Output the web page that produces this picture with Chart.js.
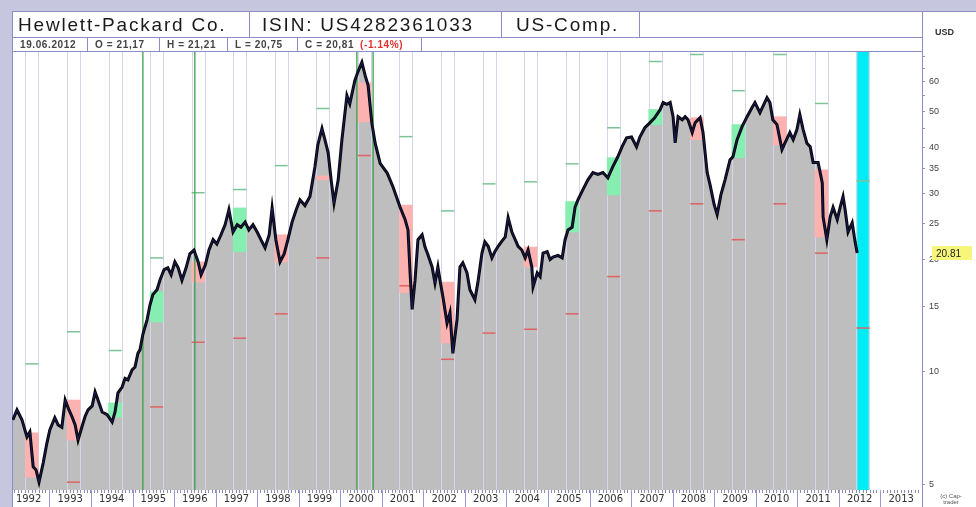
<!DOCTYPE html>
<html>
<head>
<meta charset="utf-8">
<script src="https://cdn.jsdelivr.net/npm/chart.js@4.4.1/dist/chart.umd.min.js"></script>
<style>
body{margin:0;background:#c6c6de;}
#wrap{position:relative;width:976px;height:507px;overflow:hidden;}
#panel{position:absolute;left:12px;top:11px;width:964px;height:496px;background:#fff;border-top:1px solid #8c8cc8;border-left:1px solid #8c8cc8;box-sizing:border-box;}
#sep{position:absolute;left:922px;top:12px;width:1px;height:495px;background:#8c8cc8;}
canvas{position:absolute;left:0;top:0;}
.box{position:absolute;box-sizing:border-box;border-right:1px solid #8c8cc8;border-bottom:1px solid #8c8cc8;white-space:nowrap;font-family:"Liberation Sans",Arial,sans-serif;overflow:hidden;}
.r1{top:12px;height:26px;font-size:19px;letter-spacing:1.8px;line-height:25px;color:#1a1a1a;}
.r2{top:38px;height:14px;font-size:10px;font-weight:bold;letter-spacing:0.6px;line-height:13px;color:#444;}
.neg{color:#e03030;margin-left:6px;}
#usd{position:absolute;left:935px;top:27px;font:bold 9px "Liberation Sans",Arial,sans-serif;color:#333;}
#copy{position:absolute;left:930px;top:493px;width:42px;text-align:center;font:6px/6px "Liberation Sans",Arial,sans-serif;color:#555;}
</style>
</head>
<body>
<div id="wrap">
  <div id="panel"></div>
  <canvas id="hpChart" width="976" height="507"></canvas>
  <div id="sep"></div>
  <div class="box r1" style="left:12px;width:238px;padding-left:6px">Hewlett-Packard Co.</div>
  <div class="box r1" style="left:250px;width:252px;padding-left:12px">ISIN: US4282361033</div>
  <div class="box r1" style="left:502px;width:138px;padding-left:14px">US-Comp.</div>
  <div class="box r1" style="left:640px;width:283px"></div>
  <div class="box r2" style="left:12px;width:76px;padding-left:8px">19.06.2012</div>
  <div class="box r2" style="left:88px;width:72px;padding-left:7px">O = 21,17</div>
  <div class="box r2" style="left:160px;width:68px;padding-left:7px">H = 21,21</div>
  <div class="box r2" style="left:228px;width:70px;padding-left:7px">L = 20,75</div>
  <div class="box r2" style="left:298px;width:124px;padding-left:7px">C = 20,81<span class="neg">(-1.14%)</span></div>
  <div class="box r2" style="left:422px;width:501px"></div>
  <div id="usd">USD</div>
  <div id="copy">(c) Cap-<br>trader</div>
</div>
<script>
// price path (decimal year, USD)
let dates = [
1992.12,1992.22,1992.34,1992.46,1992.53,1992.61,1992.68,1992.75,1992.85,1992.94,
1993.01,1993.13,1993.21,1993.30,1993.38,1993.47,1993.54,1993.62,1993.69,1993.78,1993.86,1993.93,
1994.03,1994.10,1994.17,1994.27,1994.39,1994.51,1994.58,1994.65,1994.75,1994.82,1994.89,1994.99,
1995.06,1995.13,1995.18,1995.25,1995.35,1995.42,1995.49,1995.59,1995.66,1995.76,1995.85,1995.93,
1996.02,1996.10,1996.19,1996.29,1996.38,1996.48,1996.58,1996.65,1996.75,1996.84,1996.94,
1997.03,1997.13,1997.23,1997.32,1997.42,1997.52,1997.61,1997.71,1997.80,1997.90,
1998.00,1998.09,1998.19,1998.29,1998.36,1998.45,1998.55,1998.65,1998.74,1998.84,1998.94,
1999.03,1999.15,1999.27,1999.39,1999.46,1999.56,1999.63,1999.71,1999.78,1999.85,1999.95,
2000.04,2000.16,2000.23,2000.35,2000.43,2000.52,2000.60,2000.67,2000.76,2000.84,2000.96,
2001.13,2001.27,2001.44,2001.56,2001.63,2001.68,2001.73,2001.80,2001.87,2001.97,
2002.04,2002.11,2002.21,2002.28,2002.35,2002.40,2002.47,2002.57,2002.64,2002.71,2002.81,2002.88,2002.95,
2003.05,2003.12,2003.24,2003.32,2003.41,2003.48,2003.56,2003.65,2003.72,2003.80,2003.89,2003.97,
2004.04,2004.13,2004.21,2004.28,2004.37,2004.45,2004.52,2004.61,2004.64,2004.74,2004.81,2004.88,2004.98,
2005.05,2005.12,2005.24,2005.34,2005.41,2005.48,2005.58,2005.65,2005.72,2005.84,2005.96,
2006.08,2006.20,2006.32,2006.44,2006.56,2006.68,2006.78,2006.89,
2007.01,2007.13,2007.21,2007.33,2007.45,2007.57,2007.70,2007.77,2007.86,2007.94,
2008.01,2008.06,2008.13,2008.23,2008.30,2008.37,2008.47,2008.54,2008.66,2008.73,2008.83,2008.90,
2009.00,2009.07,2009.16,2009.26,2009.38,2009.45,2009.55,2009.67,2009.79,2009.91,2009.98,
2010.10,2010.27,2010.34,2010.41,2010.51,2010.63,2010.70,2010.82,2010.90,2010.99,
2011.06,2011.14,2011.23,2011.31,2011.38,2011.50,2011.60,2011.62,2011.71,2011.79,2011.86,2011.96,
2012.03,2012.10,2012.15,2012.22,2012.32,2012.39,2012.44
];
let prices = [
7.43,7.90,7.43,6.69,6.9,5.56,5.45,5.06,5.69,6.44,
6.98,7.53,7.2,7.1,8.40,7.90,7.6,7.2,6.56,7.1,7.6,7.9,
8.1,8.83,8.40,7.8,7.67,7.33,7.8,8.78,9.1,9.6,9.51,10.12,
10.3,11.2,11.45,12.6,13.78,15.1,16.1,16.6,17.6,18.8,19.0,18.2,
19.7,19.0,17.6,19.0,20.7,21.2,19.7,18.2,19.3,21.2,22.6,
22.0,23.3,24.8,27.2,23.7,24.8,24.4,25.2,24.0,24.8,
23.7,22.6,21.5,23.3,27.5,22.6,19.7,20.7,22.6,25.2,27.2,
28.9,27.9,29.5,35.4,40.6,44.9,41.9,38.6,32.7,28.3,32.7,
41.9,55.0,52.3,60.3,63.9,67.6,62.2,58.6,46.4,41.0,36.2,
34.1,31.3,27.6,25.6,24.0,18.4,14.7,17.6,22.6,23.3,
21.6,20.6,19.1,17.3,19.1,17.6,15.9,13.5,14.4,11.2,13.8,19.1,19.6,
18.4,16.6,15.6,17.6,20.8,22.3,21.7,20.2,21.0,21.7,22.4,23.0,
25.9,23.7,22.6,21.7,21.2,20.2,21.2,19.1,16.9,18.4,18.0,20.8,21.0,
20.0,20.3,20.5,20.2,22.6,24.0,24.4,27.6,28.9,30.8,32.7,
34.2,33.8,34.2,33.1,35.5,37.7,40.1,42.4,
42.6,40.1,42.6,45.1,46.5,48.0,50.5,52.7,52.1,52.7,
48.3,41.1,48.3,47.4,48.3,47.4,43.8,46.5,48.0,43.8,34.2,31.7,
28.0,26.4,29.8,32.7,37.0,37.7,41.9,45.4,48.3,51.1,52.7,
49.5,54.3,52.7,47.4,46.0,39.4,41.0,43.8,41.9,44.6,
48.9,44.6,41.0,40.1,36.4,36.4,32.1,26.0,22.6,26.0,27.6,25.6,
27.6,29.5,27.2,23.7,25.1,22.3,20.81
];

// yearly boxes and level marks, 1992..2012
let years = [1992,1993,1994,1995,1996,1997,1998,1999,2000,2001,2002,2003,2004,2005,2006,2007,2008,2009,2010,2011,2012];
let boxTop    = [6.86,8.40,8.25,16.4,19.7,27.5,23.3,33.5,59.6,28.0,17.4,null,21.6,28.6,37.5,50.5,48.0,46.0,48.3,34.8,null];
let boxBottom = [5.22,6.56,7.56,13.6,17.4,21.0,19.7,32.7,46.8,16.3,11.95,null,19.1,23.7,29.8,46.0,41.9,37.5,40.6,23.0,null];
let boxUp     = [false,false,true,true,false,true,false,false,false,false,false,null,false,true,true,true,false,true,false,false,null];
let levelHigh = [10.5,12.8,11.4,20.2,30.2,30.8,35.7,50.8,null,42.7,27.0,31.9,32.3,36.1,45.1,67.9,70.9,56.7,70.9,52.4,32.5];
let levelLow  = [null,5.06,null,8.05,12.0,12.3,14.3,20.2,38.0,17.0,10.8,12.7,13.0,14.3,18.0,27.0,28.2,22.6,28.2,20.8,13.1];
let currentYear = 2012;
let splitDates = [1995.25, 1996.50, 2000.40, 2000.79];

let yTicks = [5,10,15,20,25,30,35,40,45,50,55,60,65,70];
let yLabels = [5,10,15,20,25,30,35,40,50,60];

const yMin = 4.82, yMax = 72;
const colShift = 0.58;

const pricePts = dates.map((d,i)=>({x:d, y:prices[i]}));
const boxPts = [], boxColors = [];
years.forEach((yr,i)=>{
    if(boxTop[i]==null) return;
    boxPts.push({x:yr+colShift, y:[boxBottom[i], boxTop[i]]});
    boxColors.push(boxUp[i] ? "#86eeb0" : "#fdb2b2");
});
const highPts = [], lowPts = [];
years.forEach((yr,i)=>{
    if(levelHigh[i]!=null) highPts.push({x:yr+colShift, y:levelHigh[i]});
    if(levelLow[i]!=null) lowPts.push({x:yr+colShift, y:levelLow[i]});
});
const splitPts = [];
splitDates.forEach(d=>{
    splitPts.push({x:d,y:yMin},{x:d,y:yMax},{x:d,y:null});
});

const decor = {
    id:"decor",
    afterDatasetDraw(chart, args){
        if(args.index !== 0) return;
        const {ctx, chartArea:a, scales:{x}} = chart;
        ctx.save();
        ctx.strokeStyle = "#d4d4ea";
        ctx.lineWidth = 1;
        years.forEach(yr=>{
            const c = x.getPixelForValue(yr+colShift);
            [c-6.5, c+6.5].forEach(px=>{
                const p = Math.round(px)+0.5;
                ctx.beginPath();
                ctx.moveTo(p, a.top);
                ctx.lineTo(p, a.bottom);
                ctx.stroke();
            });
        });
        ctx.restore();
    },
    afterDraw(chart){
        const {ctx, chartArea:a, scales:{x,y}} = chart;
        ctx.save();
        // year boxes along the time axis
        ctx.strokeStyle = "#9a9ad0";
        ctx.lineWidth = 1;
        for(let yr=1993; yr<=2014; yr++){
            const p = Math.round(x.getPixelForValue(yr))+0.5;
            ctx.beginPath();
            ctx.moveTo(p, a.bottom);
            ctx.lineTo(p, chart.height);
            ctx.stroke();
        }
        // last price tag
        const last = prices[prices.length-1];
        const py = Math.round(y.getPixelForValue(last));
        ctx.fillStyle = "#f6f67a";
        ctx.fillRect(a.right+10, py-7, 40, 14);
        ctx.fillStyle = "#222";
        ctx.font = "10px 'Liberation Sans', Arial";
        ctx.textBaseline = "middle";
        ctx.fillText(last.toFixed(2), a.right+14, py+1);
        ctx.restore();
    }
};

new Chart(document.getElementById("hpChart"),{
    type:"line",
    data:{
        datasets:[
            {   // gray area under price
                data:pricePts, borderColor:"rgba(0,0,0,0)", pointRadius:0,
                fill:"start", backgroundColor:"#bebebe", order:5
            },
            {   // current year column
                type:"bar", data:[{x:currentYear+colShift, y:[yMin,yMax]}],
                backgroundColor:"#00ecf4", barThickness:11, grouped:false, order:6
            },
            {
                type:"bar", data:boxPts, backgroundColor:boxColors,
                barThickness:13, grouped:false, order:4
            },
            {
                data:highPts, showLine:false, pointStyle:"line", pointRadius:6.5,
                borderColor:"#7cc496", borderWidth:1.5, order:3
            },
            {
                data:lowPts, showLine:false, pointStyle:"line", pointRadius:6.5,
                borderColor:"#e06262", borderWidth:1.5, order:3
            },
            {
                data:splitPts, borderColor:"#3ea04c", borderWidth:1.3, pointRadius:0,
                spanGaps:false, order:2
            },
            {
                data:pricePts, borderColor:"#060608", borderWidth:3, pointRadius:0, order:1
            },
            {
                data:pricePts, borderColor:"rgba(52,52,190,0.55)", borderWidth:0.8, pointRadius:0, order:0
            }
        ]
    },
    options:{
        responsive:false,
        animation:false,
        events:[],
        layout:{padding:{left:12, top:52, right:1, bottom:0}},
        plugins:{legend:{display:false}, tooltip:{enabled:false}},
        scales:{
            x:{
                type:"linear", min:1992.1, max:2014, offset:false,
                afterBuildTicks(s){
                    const t = [];
                    for(let yr=1992; yr<=2013; yr++){
                        for(let m=0; m<12; m++){
                            const v = yr + m/12;
                            if(v>=s.min && v<=s.max) t.push({value:v});
                        }
                    }
                    s.ticks = t;
                },
                ticks:{
                    autoSkip:false, maxRotation:0, padding:0,
                    font:{family:"DejaVu Sans", size:10}, color:"#333",
                    callback(v){
                        const f = v - Math.floor(v);
                        return Math.abs(f-0.5) < 1e-6 ? String(Math.floor(v)) : "";
                    }
                },
                grid:{drawOnChartArea:false, tickLength:3, tickColor:"#8a8ab8", offset:false},
                border:{display:false},
                afterFit(s){ s.height = 17; }
            },
            y:{
                type:"logarithmic", position:"right", min:yMin, max:yMax,
                afterBuildTicks(s){ s.ticks = yTicks.map(v=>({value:v})); },
                ticks:{
                    autoSkip:false, padding:4,
                    font:{family:"Liberation Sans", size:9}, color:"#444",
                    callback(v){ return yLabels.includes(v) ? String(v) : ""; }
                },
                grid:{drawOnChartArea:false, tickLength:3, tickColor:"#9090b8"},
                border:{color:"#8c8cc8"},
                afterFit(s){ s.width = 53; }
            }
        }
    },
    plugins:[decor]
});
</script>
</body>
</html>
